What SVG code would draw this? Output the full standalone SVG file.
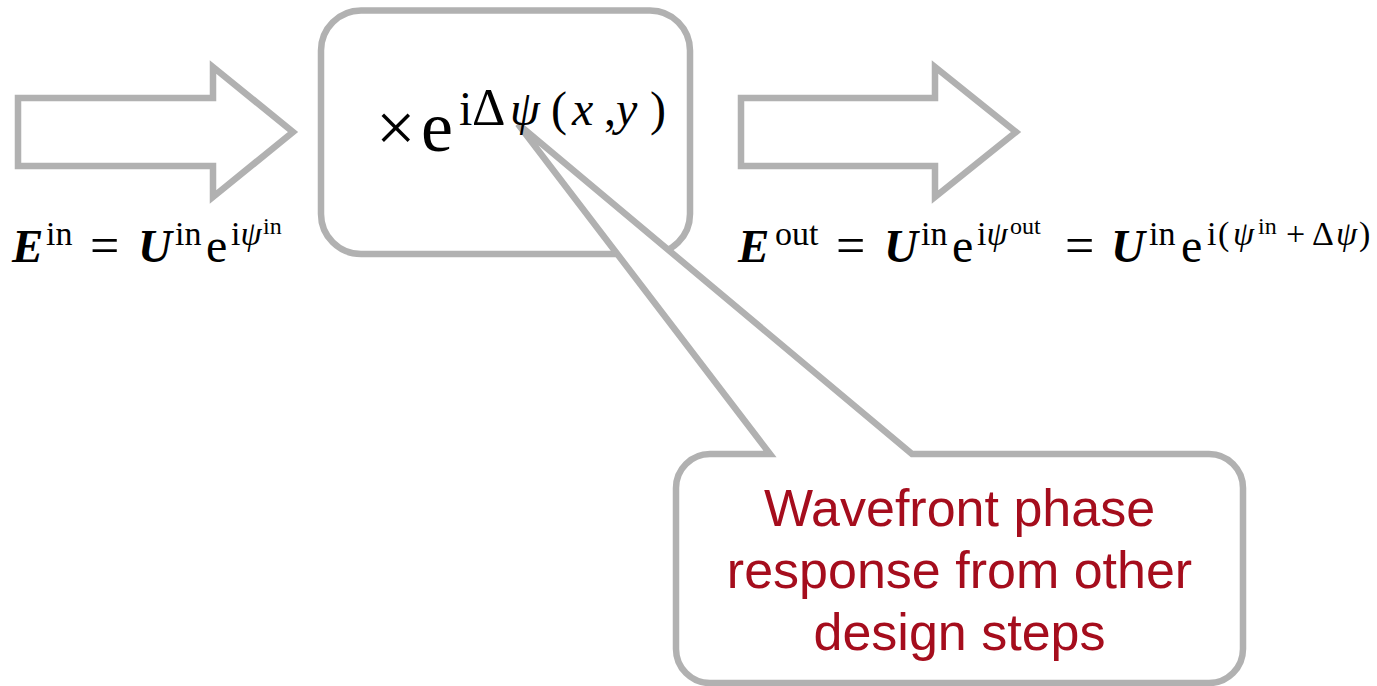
<svg xmlns="http://www.w3.org/2000/svg" width="1377" height="686" viewBox="0 0 1377 686">
<style>
.shape{fill:#ffffff;stroke:#b1b1b1;stroke-width:6.5;stroke-linejoin:miter}
.m{font-family:"Liberation Serif","DejaVu Serif",serif;fill:#000}
.bi{font-weight:bold;font-style:italic}
.it{font-style:italic}
.call{font-family:"Liberation Sans",Arial,sans-serif;font-size:52px;fill:#a50d1d;text-anchor:middle}
</style>
<rect width="1377" height="686" fill="#ffffff"/>
<g id="arrow-in">
<polygon class="shape" points="18,98 213,98 213,67 293,132 213,197 213,166 18,166"/>
</g>
<g id="arrow-out">
<polygon class="shape" points="741,98 935,98 935,67 1016,132 935,197 935,166 741,166"/>
</g>
<g id="phase-box">
<rect class="shape" x="321" y="10.5" width="369" height="243.5" rx="40" ry="40"/>
</g>
<g id="connectors">
<g id="callout">
<path class="shape" d="M 912 454 L 1209 454 A 34 34 0 0 1 1243 488 L 1243 649 A 34 34 0 0 1 1209 683 L 710 683 A 34 34 0 0 1 676 649 L 676 488 A 34 34 0 0 1 710 454 L 770 454 L 518 124 Z"/>
<text class="call" x="959.5" y="526">Wavefront phase</text>
<text class="call" x="959.5" y="588">response from other</text>
<text class="call" x="959.5" y="650">design steps</text>
</g>
</g>
<g id="phase-label" class="m">
<text x="376" y="151" font-size="70">×</text>
<text x="421" y="151" font-size="72">e</text>
<text y="125" font-size="48"><tspan x="459">i</tspan><tspan x="472" font-size="52">Δ</tspan><tspan x="510" class="it">ψ</tspan><tspan x="551">(</tspan><tspan x="572" class="it">x</tspan><tspan x="604">,</tspan><tspan x="616" class="it">y</tspan><tspan x="650">)</tspan></text>
</g>
<g id="label-in" class="m">
<text x="12" y="262" font-size="47" class="bi">E</text>
<text x="46" y="245" font-size="34">in</text>
<text x="90" y="263" font-size="52">=</text>
<text x="138" y="262" font-size="47" class="bi">U</text>
<text x="175" y="245" font-size="34">in</text>
<text x="206" y="262" font-size="48">e</text>
<text x="231" y="245" font-size="34">i<tspan class="it">ψ</tspan></text>
<text x="263" y="234" font-size="24">in</text>
</g>
<g id="label-out" class="m">
<text x="738" y="262" font-size="47" class="bi">E</text>
<text x="775" y="245" font-size="34">out</text>
<text x="836" y="263" font-size="52">=</text>
<text x="884" y="262" font-size="47" class="bi">U</text>
<text x="921" y="245" font-size="34">in</text>
<text x="952" y="262" font-size="48">e</text>
<text x="977" y="245" font-size="34">i<tspan class="it">ψ</tspan></text>
<text x="1010" y="234" font-size="24">out</text>
<text x="1065" y="263" font-size="52">=</text>
<text x="1111" y="262" font-size="47" class="bi">U</text>
<text x="1149" y="245" font-size="34">in</text>
<text x="1181" y="262" font-size="48">e</text>
<text y="245" font-size="34"><tspan x="1207">i</tspan><tspan x="1218">(</tspan><tspan x="1233" class="it">ψ</tspan></text>
<text x="1258" y="234" font-size="24">in</text>
<text y="245" font-size="34"><tspan x="1286">+</tspan><tspan x="1312">Δ</tspan><tspan x="1336" class="it">ψ</tspan><tspan x="1359">)</tspan></text>
</g>
</svg>
